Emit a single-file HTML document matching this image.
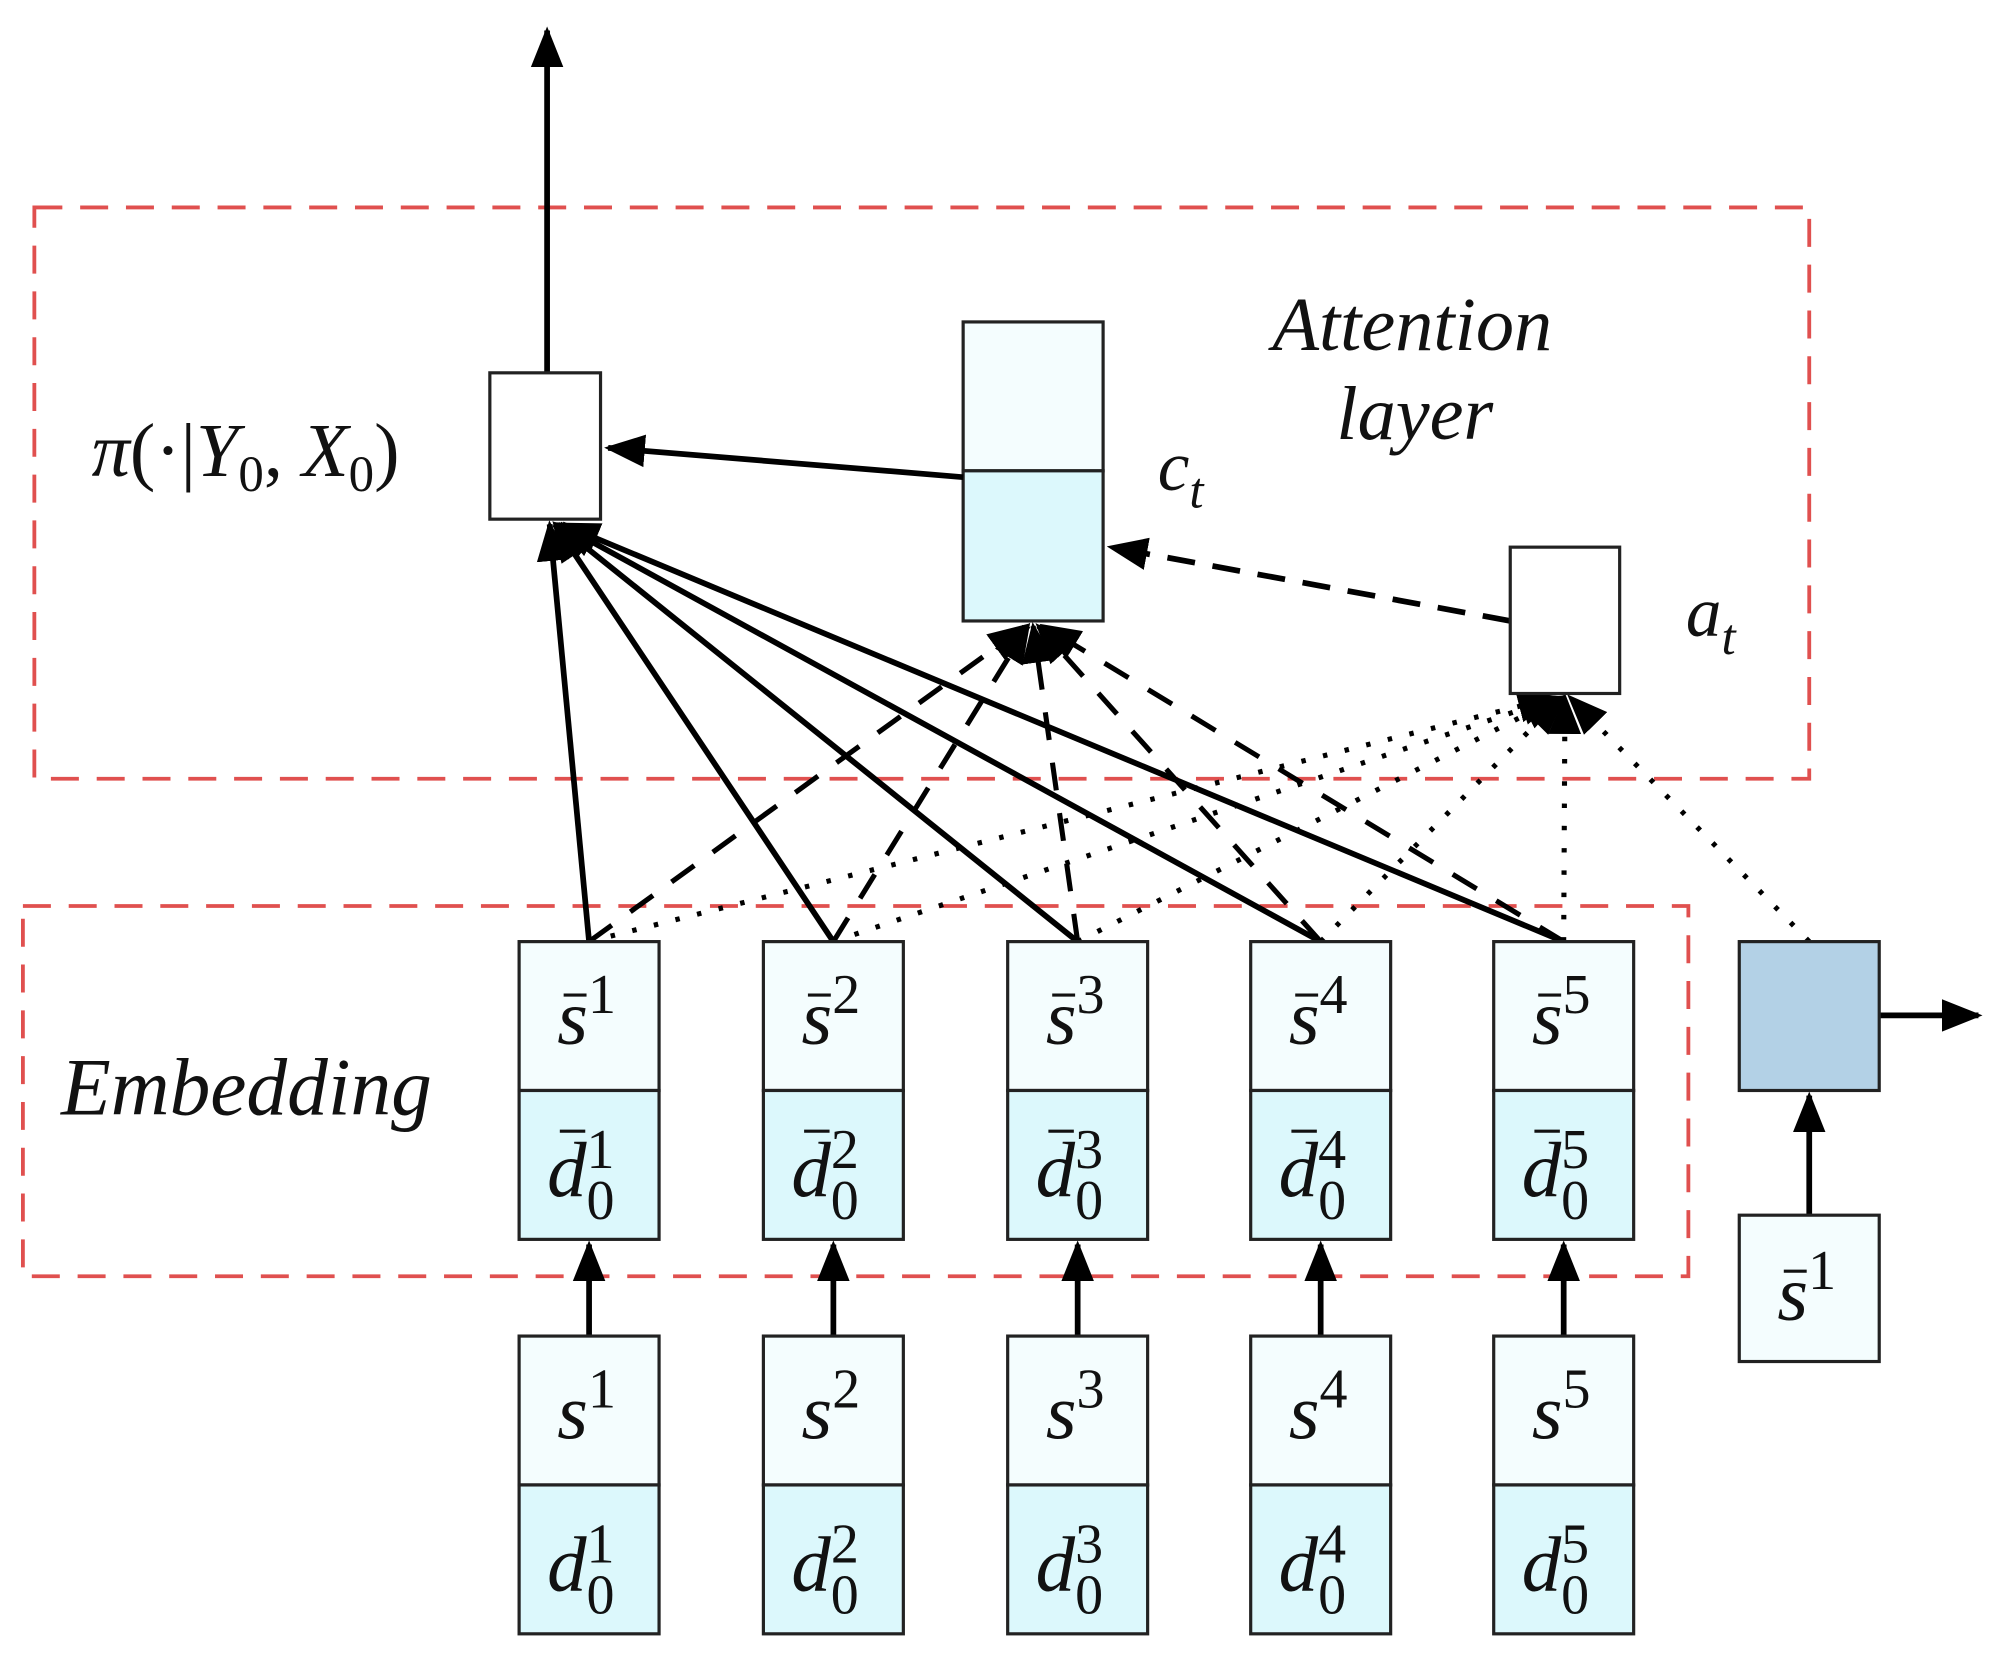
<!DOCTYPE html>
<html><head><meta charset="utf-8"><style>
html,body{margin:0;padding:0;background:#fff;}
svg{display:block;}
text{font-family:"Liberation Serif",serif;fill:#111;}
.it{font-style:italic;}
</style></head><body>
<svg width="1995" height="1672" viewBox="0 0 1568 1314" preserveAspectRatio="none" xmlns="http://www.w3.org/2000/svg">
<defs>
<marker id="a" viewBox="0 0 10 10" refX="9" refY="5" markerWidth="32" markerHeight="32" markerUnits="userSpaceOnUse" orient="auto"><path d="M0,1 L10,5 L0,9 Z" fill="#000"/></marker>
</defs>
<rect width="1568" height="1314" fill="#fff"/>
<rect x="27" y="163" width="1395" height="449" fill="none" stroke="#e0504f" stroke-width="3" stroke-dasharray="22 14"/>
<rect x="18" y="712" width="1309" height="291" fill="none" stroke="#e0504f" stroke-width="3" stroke-dasharray="22 14"/>

<line x1="430" y1="293" x2="430" y2="24" stroke="#000" stroke-width="4.5" marker-end="url(#a)"/>

<g stroke="#000" stroke-width="4.5" fill="none" marker-end="url(#a)">
<line x1="463" y1="740" x2="432" y2="412"/>
<line x1="655" y1="740" x2="436" y2="412"/>
<line x1="847" y1="740" x2="438" y2="412"/>
<line x1="1038" y1="740" x2="440" y2="412"/>
<line x1="1229" y1="740" x2="442" y2="412"/>
</g>
<g stroke="#000" stroke-width="4" fill="none" stroke-dasharray="22 18" marker-end="url(#a)">
<line x1="463" y1="740" x2="806" y2="492"/>
<line x1="655" y1="740" x2="808" y2="492"/>
<line x1="847" y1="740" x2="812" y2="492"/>
<line x1="1038" y1="740" x2="816" y2="492"/>
<line x1="1229" y1="740" x2="820" y2="492"/>
</g>
<g stroke="#000" stroke-width="4" fill="none" stroke-dasharray="3.5 14" marker-end="url(#a)">
<line x1="463" y1="740" x2="1222" y2="548"/>
<line x1="655" y1="740" x2="1224" y2="548"/>
<line x1="847" y1="740" x2="1226" y2="548"/>
<line x1="1038" y1="740" x2="1228" y2="548"/>
<line x1="1229" y1="740" x2="1230" y2="548"/>
<line x1="1422" y1="740" x2="1234" y2="548"/>
</g>

<rect x="385" y="293" width="87" height="115" fill="#fff" stroke="#222" stroke-width="2.5"/>
<text x="72" y="374" font-size="60"><tspan class="it">π</tspan>(·|<tspan class="it">Y</tspan><tspan font-size="40" dy="12">0</tspan><tspan dy="-12">, </tspan><tspan class="it">X</tspan><tspan font-size="40" dy="12">0</tspan><tspan dy="-12">)</tspan></text>

<rect x="757" y="253" width="110" height="117" fill="#f4fdfe" stroke="#222" stroke-width="2.5"/>
<rect x="757" y="370" width="110" height="118" fill="#dcf8fc" stroke="#222" stroke-width="2.5"/>
<line x1="757" y1="375" x2="478" y2="352" stroke="#000" stroke-width="4.5" marker-end="url(#a)"/>
<text x="910" y="385" font-size="56" class="it">c<tspan font-size="40" dy="14">t</tspan></text>

<line x1="1187" y1="488" x2="873" y2="430" stroke="#000" stroke-width="4.5" stroke-dasharray="22 14" marker-end="url(#a)"/>
<rect x="1187" y="430" width="86" height="115" fill="#fff" stroke="#222" stroke-width="2.5"/>
<text x="1325" y="500" font-size="56" class="it">a<tspan font-size="40" dy="14">t</tspan></text>

<text x="1110" y="275" font-size="60" class="it" text-anchor="middle">Attention</text>
<text x="1112" y="345" font-size="60" class="it" text-anchor="middle">layer</text>
<text x="48" y="876" font-size="64" class="it">Embedding</text>

<g stroke="#000" stroke-width="4.5" marker-end="url(#a)">
<line x1="463" y1="1050" x2="463" y2="978"/>
<line x1="655" y1="1050" x2="655" y2="978"/>
<line x1="847" y1="1050" x2="847" y2="978"/>
<line x1="1038" y1="1050" x2="1038" y2="978"/>
<line x1="1229" y1="1050" x2="1229" y2="978"/>
<line x1="1422" y1="955" x2="1422" y2="861"/>
<line x1="1477" y1="798" x2="1555" y2="798"/>
</g>

<g stroke="#222" stroke-width="2.5">
<rect x="408" y="740" width="110" height="117" fill="#f4fdfe"/><rect x="408" y="857" width="110" height="117" fill="#dcf8fc"/>
<rect x="600" y="740" width="110" height="117" fill="#f4fdfe"/><rect x="600" y="857" width="110" height="117" fill="#dcf8fc"/>
<rect x="792" y="740" width="110" height="117" fill="#f4fdfe"/><rect x="792" y="857" width="110" height="117" fill="#dcf8fc"/>
<rect x="983" y="740" width="110" height="117" fill="#f4fdfe"/><rect x="983" y="857" width="110" height="117" fill="#dcf8fc"/>
<rect x="1174" y="740" width="110" height="117" fill="#f4fdfe"/><rect x="1174" y="857" width="110" height="117" fill="#dcf8fc"/>
<rect x="408" y="1050" width="110" height="117" fill="#f4fdfe"/><rect x="408" y="1167" width="110" height="117" fill="#dcf8fc"/>
<rect x="600" y="1050" width="110" height="117" fill="#f4fdfe"/><rect x="600" y="1167" width="110" height="117" fill="#dcf8fc"/>
<rect x="792" y="1050" width="110" height="117" fill="#f4fdfe"/><rect x="792" y="1167" width="110" height="117" fill="#dcf8fc"/>
<rect x="983" y="1050" width="110" height="117" fill="#f4fdfe"/><rect x="983" y="1167" width="110" height="117" fill="#dcf8fc"/>
<rect x="1174" y="1050" width="110" height="117" fill="#f4fdfe"/><rect x="1174" y="1167" width="110" height="117" fill="#dcf8fc"/>
<rect x="1367" y="740" width="110" height="117" fill="#b3d1e6"/>
<rect x="1367" y="955" width="110" height="115" fill="#f4fdfe"/>
</g>

<g font-size="62">
<text x="438" y="820"><tspan class="it">s</tspan><tspan font-size="44" dy="-24">1</tspan></text>
<text x="630" y="820"><tspan class="it">s</tspan><tspan font-size="44" dy="-24">2</tspan></text>
<text x="822" y="820"><tspan class="it">s</tspan><tspan font-size="44" dy="-24">3</tspan></text>
<text x="1013" y="820"><tspan class="it">s</tspan><tspan font-size="44" dy="-24">4</tspan></text>
<text x="1204" y="820"><tspan class="it">s</tspan><tspan font-size="44" dy="-24">5</tspan></text>
<text x="1397" y="1037"><tspan class="it">s</tspan><tspan font-size="44" dy="-24">1</tspan></text>

<text x="430" y="940"><tspan class="it">d</tspan><tspan font-size="44" dy="-22">1</tspan><tspan font-size="44" dx="-22" dy="40">0</tspan></text>
<text x="622" y="940"><tspan class="it">d</tspan><tspan font-size="44" dy="-22">2</tspan><tspan font-size="44" dx="-22" dy="40">0</tspan></text>
<text x="814" y="940"><tspan class="it">d</tspan><tspan font-size="44" dy="-22">3</tspan><tspan font-size="44" dx="-22" dy="40">0</tspan></text>
<text x="1005" y="940"><tspan class="it">d</tspan><tspan font-size="44" dy="-22">4</tspan><tspan font-size="44" dx="-22" dy="40">0</tspan></text>
<text x="1196" y="940"><tspan class="it">d</tspan><tspan font-size="44" dy="-22">5</tspan><tspan font-size="44" dx="-22" dy="40">0</tspan></text>

<text x="438" y="1130"><tspan class="it">s</tspan><tspan font-size="44" dy="-24">1</tspan></text>
<text x="630" y="1130"><tspan class="it">s</tspan><tspan font-size="44" dy="-24">2</tspan></text>
<text x="822" y="1130"><tspan class="it">s</tspan><tspan font-size="44" dy="-24">3</tspan></text>
<text x="1013" y="1130"><tspan class="it">s</tspan><tspan font-size="44" dy="-24">4</tspan></text>
<text x="1204" y="1130"><tspan class="it">s</tspan><tspan font-size="44" dy="-24">5</tspan></text>

<text x="430" y="1250"><tspan class="it">d</tspan><tspan font-size="44" dy="-22">1</tspan><tspan font-size="44" dx="-22" dy="40">0</tspan></text>
<text x="622" y="1250"><tspan class="it">d</tspan><tspan font-size="44" dy="-22">2</tspan><tspan font-size="44" dx="-22" dy="40">0</tspan></text>
<text x="814" y="1250"><tspan class="it">d</tspan><tspan font-size="44" dy="-22">3</tspan><tspan font-size="44" dx="-22" dy="40">0</tspan></text>
<text x="1005" y="1250"><tspan class="it">d</tspan><tspan font-size="44" dy="-22">4</tspan><tspan font-size="44" dx="-22" dy="40">0</tspan></text>
<text x="1196" y="1250"><tspan class="it">d</tspan><tspan font-size="44" dy="-22">5</tspan><tspan font-size="44" dx="-22" dy="40">0</tspan></text>
</g>
<g stroke="#111" stroke-width="2.5">
<line x1="443" y1="782" x2="461" y2="782"/><line x1="635" y1="782" x2="653" y2="782"/><line x1="827" y1="782" x2="845" y2="782"/><line x1="1018" y1="782" x2="1036" y2="782"/><line x1="1209" y1="782" x2="1227" y2="782"/>
<line x1="1402" y1="999" x2="1420" y2="999"/>
<line x1="440" y1="889" x2="460" y2="889"/><line x1="632" y1="889" x2="652" y2="889"/><line x1="824" y1="889" x2="844" y2="889"/><line x1="1015" y1="889" x2="1035" y2="889"/><line x1="1206" y1="889" x2="1226" y2="889"/>
</g>
</svg>
</body></html>
